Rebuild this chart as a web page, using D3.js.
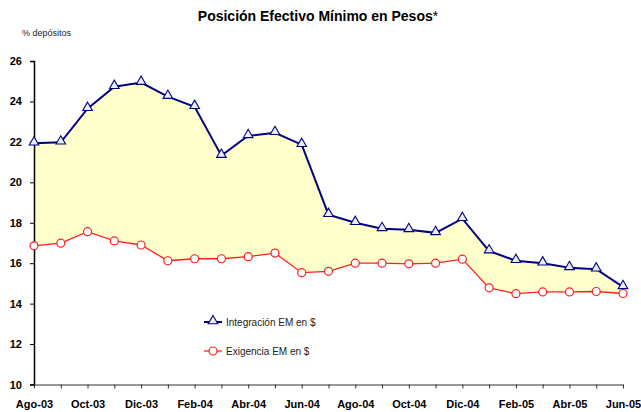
<!DOCTYPE html>
<html>
<head>
<meta charset="utf-8">
<script src="https://cdn.jsdelivr.net/npm/d3@7"></script>
<style>
  body { margin: 0; background: #fff; }
  text { font-family: "Liberation Sans", Arial, sans-serif; }
</style>
</head>
<body>
<script>
var months = ["Ago-03","Sep-03","Oct-03","Nov-03","Dic-03","Ene-04","Feb-04","Mar-04","Abr-04","May-04","Jun-04","Jul-04",
  "Ago-04","Sep-04","Oct-04","Nov-04","Dic-04","Ene-05","Feb-05","Mar-05","Abr-05","May-05","Jun-05"];
var integracion = [21.93, 21.98, 23.64, 24.73, 24.93, 24.24, 23.74, 21.32, 22.3, 22.45, 21.86, 18.4,
  18.0, 17.7, 17.65, 17.5, 18.2, 16.6, 16.12, 16.0, 15.77, 15.7, 14.83];
var exigencia = [16.86, 16.99, 17.56, 17.1, 16.9, 16.12, 16.22, 16.22, 16.32, 16.5, 15.53, 15.6,
  16.0, 16.0, 15.97, 16.0, 16.2, 14.78, 14.49, 14.58, 14.58, 14.6, 14.5];
var yTicks = [10, 12, 14, 16, 18, 20, 22, 24, 26];
var xLabels = ["Ago-03","Oct-03","Dic-03","Feb-04","Abr-04","Jun-04","Ago-04","Oct-04","Dic-04","Feb-05","Abr-05","Jun-05"];

var W = 641, H = 412;
var svg = d3.select("body").append("svg").attr("width", W).attr("height", H);

var x = d3.scalePoint().domain(months).range([34, 623]);
var y = d3.scaleLinear().domain([10, 26]).range([384.5, 61]);

// title
var title = svg.append("text").attr("x", 318).attr("y", 21)
  .attr("text-anchor", "middle").style("font-size", "14px").style("font-weight", "bold")
  .text("Posición Efectivo Mínimo en Pesos");
title.append("tspan").style("font-weight", "normal").text("*");

svg.append("text").attr("x", 22).attr("y", 36).style("font-size", "9px").attr("fill", "#222")
  .text("% depósitos");

// band between the series
var area = d3.area()
  .x(function(d, i) { return x(months[i]); })
  .y0(function(d, i) { return y(exigencia[i]); })
  .y1(function(d) { return y(d); });
svg.append("path").datum(integracion).attr("d", area).attr("fill", "#FFFFCC");

// y axis
var yAxis = svg.append("g").attr("transform", "translate(34,0)")
  .call(d3.axisLeft(y).tickValues(yTicks).tickSize(4).tickPadding(8));
yAxis.select(".domain").attr("stroke", "#000").attr("stroke-width", 1.5);
yAxis.selectAll(".tick line").attr("stroke", "#000");
yAxis.selectAll("text").style("font-size", "11px").style("font-weight", "bold")
  .style("font-family", "Liberation Sans, Arial, sans-serif").attr("fill", "#000");

// x axis
var xAxis = svg.append("g").attr("transform", "translate(0," + y(10) + ")")
  .call(d3.axisBottom(x).tickSize(4).tickSizeOuter(0)
    .tickFormat(function(d) { return xLabels.indexOf(d) >= 0 ? d : ""; }).tickPadding(12));
xAxis.select(".domain").attr("stroke", "#333").attr("stroke-width", 1.2);
xAxis.selectAll(".tick line").attr("stroke", "#333");
xAxis.selectAll("text").style("font-size", "11px").style("font-weight", "bold")
  .style("font-family", "Liberation Sans, Arial, sans-serif").attr("fill", "#000");

var line = d3.line().x(function(d, i) { return x(months[i]); }).y(function(d) { return y(d); });

svg.append("path").datum(exigencia).attr("d", line)
  .attr("fill", "none").attr("stroke", "#FF2020").attr("stroke-width", 1.3);
svg.append("path").datum(integracion).attr("d", line)
  .attr("fill", "none").attr("stroke", "#000080").attr("stroke-width", 2);

var tri = d3.symbol().type(d3.symbolTriangle).size(40);

svg.selectAll("circle.ex").data(exigencia).enter().append("circle")
  .attr("cx", function(d, i) { return x(months[i]); })
  .attr("cy", function(d) { return y(d); })
  .attr("r", 4).attr("fill", "#fff").attr("stroke", "#FF2020").attr("stroke-width", 1.2);

svg.selectAll("path.tri").data(integracion).enter().append("path")
  .attr("d", tri)
  .attr("transform", function(d, i) { return "translate(" + x(months[i]) + "," + (y(d) - 1) + ")"; })
  .attr("fill", "#E8ECFF").attr("stroke", "#000080").attr("stroke-width", 1.1);

// legend
var leg = svg.append("g");
leg.append("line").attr("x1", 204).attr("x2", 222).attr("y1", 322).attr("y2", 322)
  .attr("stroke", "#000080").attr("stroke-width", 2);
leg.append("path").attr("d", tri).attr("transform", "translate(213,321)")
  .attr("fill", "#E8ECFF").attr("stroke", "#000080").attr("stroke-width", 1.1);
leg.append("text").attr("x", 226).attr("y", 326).style("font-size", "10px").attr("fill", "#222")
  .text("Integración EM en $");
leg.append("line").attr("x1", 204).attr("x2", 222).attr("y1", 351).attr("y2", 351)
  .attr("stroke", "#FF2020").attr("stroke-width", 1.3);
leg.append("circle").attr("cx", 213).attr("cy", 351).attr("r", 4)
  .attr("fill", "#fff").attr("stroke", "#FF2020").attr("stroke-width", 1.2);
leg.append("text").attr("x", 226).attr("y", 355).style("font-size", "10px").attr("fill", "#222")
  .text("Exigencia EM en $");
</script>
</body>
</html>
